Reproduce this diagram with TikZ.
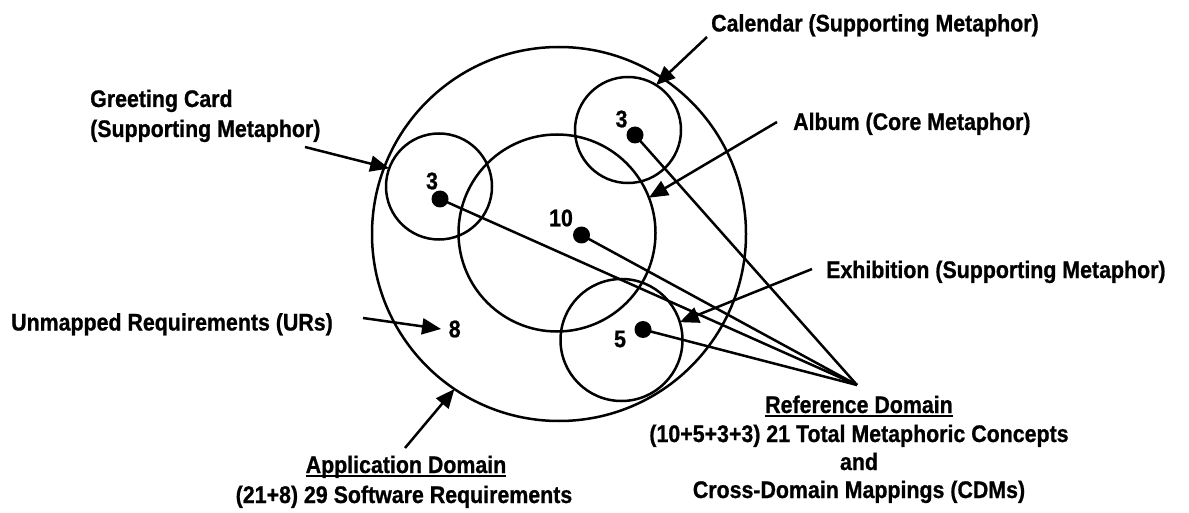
\documentclass[tikz,border=0pt]{standalone}
\usepackage{fontspec}
\setmainfont[FakeStretch=0.89,BoldFeatures={FakeBold=0.8}]{Liberation Sans}
\usetikzlibrary{arrows.meta}
% underline drawn a little below the baseline
\newcommand\myul[1]{\setbox0\hbox{#1}\rlap{\rule[-4pt]{\wd0}{2pt}}\box0}
\begin{document}
\begin{tikzpicture}[x=1pt,y=-1pt,
  ring/.style={circle,draw,line width=2.5pt,inner sep=0pt,outer sep=0pt},
  dot/.style={circle,fill,inner sep=0pt,minimum size=17pt},
  lab/.style={inner sep=0pt,font=\fontsize{24}{28.5}\selectfont\bfseries},
  num/.style={lab},
  link/.style={line width=2.5pt},
  arr/.style={line width=2.5pt,-{Triangle[length=19pt,width=16pt]}},
]
\useasboundingbox (0,0) rectangle (1189,513);

% domains
\node[ring,minimum size=374pt] (app) at (559,234) {};
\node[ring,minimum size=197pt] (alb) at (557,233) {};
\node[ring,minimum size=106pt] (gc)  at (439,186.5) {};
\node[ring,minimum size=106pt] (cal) at (628,130) {};
\node[ring,minimum size=122pt] (exh) at (621.5,340) {};

% concept counts
\node[num] (ngc)  at (432,181) {3};
\node[num] (ncal) at (621.5,119) {3};
\node[num] (nalb) at (561,218) {10};
\node[num] (nexh) at (620,339) {5};
\node[num,inner xsep=7.5pt] (nur) at (454.7,329) {8};

% mappings into the reference domain
\coordinate (refpt) at (857,385);
\node[dot] (dgc)  at (440,199) {};
\node[dot] (dcal) at (635,135) {};
\node[dot] (dalb) at (581.5,235) {};
\node[dot] (dexh) at (643,329.5) {};
\draw[link] (dgc.center) -- (refpt);
\draw[link] (dcal.center) -- (refpt);
\draw[link] (dalb.center) -- (refpt);
\draw[link] (dexh.center) -- (refpt);

% labels
\node[lab,anchor=base west] (callab) at (711,31.5) {Calendar (Supporting Metaphor)};
\node[lab,anchor=base west] (alblab) at (793,130) {Album (Core Metaphor)};
\node[lab,anchor=base west] (exhlab) at (826,278) {Exhibition (Supporting Metaphor)};
\node[lab,anchor=base west] (gclab1) at (90,107) {Greeting Card};
\node[lab,anchor=base west] (gclab2) at (90,137) {(Supporting Metaphor)};
\node[lab,anchor=base west] (urlab) at (11,330.5) {Unmapped Requirements (URs)};
\node[lab,anchor=base] (adlab1) at (406,473) {\myul{Application Domain}};
\node[lab,anchor=base] (adlab2) at (404,503) {(21+8) 29 Software Requirements};
\node[lab,anchor=base] (rdlab1) at (859,413) {\myul{Reference Domain}};
\node[lab,anchor=base] (rdlab2) at (859,442) {(10+5+3+3) 21 Total Metaphoric Concepts};
\node[lab,anchor=base] (rdlab3) at (859,470) {and};
\node[lab,anchor=base] (rdlab4) at (859,498) {Cross-Domain Mappings (CDMs)};

% pointers from labels
\coordinate (gctail)  at (305,147);
\coordinate (caltail) at (707,37);
\coordinate (albtail) at (777,122);
\coordinate (exhtail) at (812,269);
\coordinate (urtail)  at (363,318);
\coordinate (adtail)  at (405,448);
\draw[arr] (gctail) -- (gc.160);
\draw[arr] (caltail) -- (cal.58);
\draw[arr] (albtail) -- (alb.21);
\draw[arr] (exhtail) -- (exh.17);
\draw[arr] (urtail) -- (nur.west);
\draw[arr] (adtail) -- (app.236);
\end{tikzpicture}
\end{document}
